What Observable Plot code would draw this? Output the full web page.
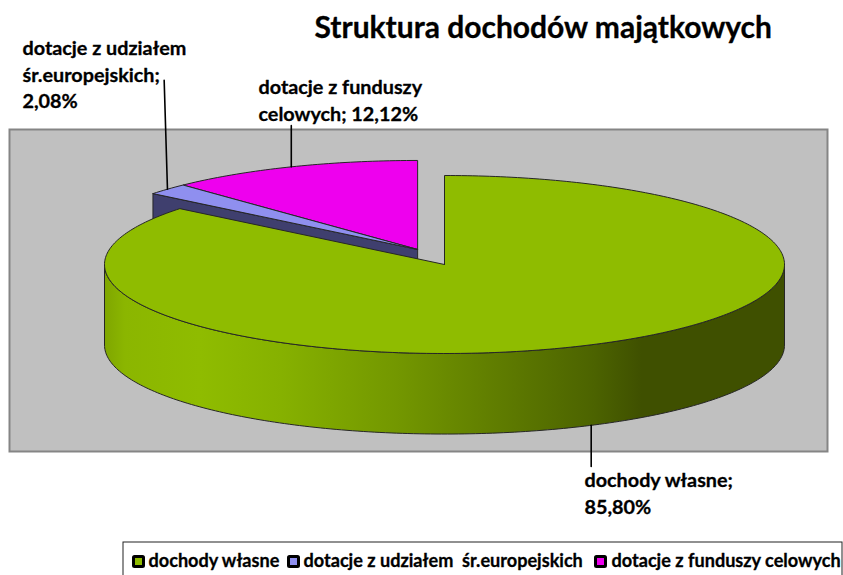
<!DOCTYPE html>
<html>
<head>
<meta charset="utf-8">
<script src="https://cdn.jsdelivr.net/npm/d3@7"></script>
<script src="https://cdn.jsdelivr.net/npm/@observablehq/plot@0.6"></script>
<style>
html,body{margin:0;padding:0;background:#fff}
svg{display:block}
</style>
</head>
<body>
<div id="chart"></div>
<script>
const categories = ["dochody własne", "dotacje z udziałem  śr.europejskich", "dotacje z funduszy celowych"];
const shares = [85.80, 2.08, 12.12];
const shareLabels = ["85,80%", "2,08%", "12,12%"];
const topColors = ["#8fbc00", "#8f8fef", "#ee00ee"];
const sideColors = ["#3f5200", "#3f3f6e", "#6e006e"];
const titleText = "Struktura dochodów majątkowych";

// Pie geometry, in units where the top face radius is 1 on both axes
const depth = 0.905;
const shifted = [0, -0.079, -0.079];   // slices pulled out to the left
const lifted = [0, 0.169, 0.169];      // ... and up
const font = "Lato, sans-serif";

const total = d3.sum(shares);
let running = 0;
const slices = shares.map((s, i) => {
  const start = running / total * 2 * Math.PI;
  running += s;
  return {i, start, end: running / total * 2 * Math.PI, cx: shifted[i], cy: lifted[i]};
});
const arcPts = (s, a0, a1, dy = 0) => {
  const n = Math.max(2, Math.ceil(Math.abs(a1 - a0) * 60));
  return d3.range(n + 1).map(k => {
    const a = a0 + (a1 - a0) * k / n;
    return {x: s.cx + Math.sin(a), y: s.cy + Math.cos(a) - dy};
  });
};
const topFace = s => [{x: s.cx, y: s.cy}, ...arcPts(s, s.start, s.end), {x: s.cx, y: s.cy}];
const rimSide = s => {
  const lo = Math.PI / 2, hi = 3 * Math.PI / 2;
  return [...arcPts(s, lo, hi), ...arcPts(s, hi, lo, depth), {x: s.cx + 1, y: s.cy}];
};
const cutSide = s => {
  const p = {x: s.cx + Math.sin(s.start), y: s.cy + Math.cos(s.start)};
  return [p, {x: s.cx, y: s.cy}, {x: s.cx, y: s.cy - depth}, {x: p.x, y: p.y - depth}, p];
};
const poly = (pts, fill, strokeWidth = 1, stroke = "#262626") =>
  Plot.line(pts, {x: "x", y: "y", fill, stroke, strokeWidth, strokeLinejoin: "round", curve: "linear"});

// Leader lines start at the middle of each slice's rim
const leader = (i, yEnd, drop = 0, lean = 0) => {
  const s = slices[i], a = (s.start + s.end) / 2;
  const x = s.cx + Math.sin(a);
  return Plot.line([{x, y: s.cy + Math.cos(a) - drop}, {x: x + lean, y: yEnd}],
    {x: "x", y: "y", stroke: "#000", strokeWidth: 1.6});
};

const gradientDefs = () => {
  const defs = d3.create("svg:defs");
  const g = defs.append("linearGradient").attr("id", "rim").attr("x1", 0).attr("x2", 1).attr("y1", 0).attr("y2", 0);
  [[0, "#7fa600"], [0.03, "#8bb600"], [0.14, "#8fbc00"], [0.26, "#86b100"], [0.43, "#739700"], [0.58, "#5f7c00"], [0.72, "#4c6300"], [0.79, "#3f5000"], [1, "#3f5000"]]
    .forEach(([o, c]) => g.append("stop").attr("offset", o).attr("stop-color", c));
  return defs.node();
};

const labels = [
  {t: titleText, x: 314, y: 28, size: 30},
  {t: "dotacje z udziałem", x: 22, y: 48, size: 19.8},
  {t: "śr.europejskich;", x: 22, y: 75, size: 19.8},
  {t: shareLabels[1], x: 22, y: 101, size: 19.8},
  {t: "dotacje z funduszy", x: 258, y: 87, size: 19.8},
  {t: "celowych; " + shareLabels[2], x: 258, y: 114, size: 19.8},
  {t: categories[0] + ";", x: 584, y: 480, size: 19.8},
  {t: shareLabels[0], x: 584, y: 507, size: 19.8}
];
const legendX = [148, 303, 611];
const legendText = categories.map((c, i) => ({t: c, x: legendX[i], y: 561, size: 18.1}));

const M = {left: 9, top: 129, right: 16, bottom: 124};
const textAt = rows => rows.map(r => Plot.text([r], {
  frameAnchor: "top-left",
  dx: r.x - M.left, dy: r.y - M.top,
  text: "t", textAnchor: "start", lineAnchor: "middle",
  fontFamily: font, fontWeight: 700, fontSize: r.size, fill: "#000",
  stroke: "#000", strokeWidth: 0.3
}));

const plot = Plot.plot({
  width: 843, height: 575,
  marginLeft: M.left, marginTop: M.top, marginRight: M.right, marginBottom: M.bottom,
  style: {background: "#fff", overflow: "visible"},
  x: {domain: [(9 - 444) / 340, (827 - 444) / 340], axis: null},
  y: {domain: [(264 - 451) / 89, (264 - 129) / 89], axis: null},
  marks: [
    gradientDefs,
    Plot.frame({fill: "#c0c0c0", stroke: "#858585", strokeWidth: 2}),
    poly(cutSide(slices[1]), sideColors[1]),
    poly(topFace(slices[2]), topColors[2]),
    poly(topFace(slices[1]), topColors[1]),
    poly(rimSide(slices[0]), "url(#rim)"),
    poly(topFace(slices[0]), topColors[0]),
    leader(0, -2.27, depth),
    leader(1, 2.07, 0, -0.0097),
    leader(2, 1.56),
    ...textAt(labels),
    ...textAt(legendText)
  ]
});
document.getElementById("chart").append(plot);

// Legend box and swatches
const svg = d3.select(plot);
svg.append("rect").attr("x", 123).attr("y", 542).attr("width", 719).attr("height", 34)
  .attr("fill", "none").attr("stroke", "#222").attr("stroke-width", 1);
const swatchX = [133.5, 288.5, 595.5];
topColors.forEach((c, i) => svg.append("rect").attr("x", swatchX[i]).attr("y", 556.5).attr("width", 10).attr("height", 10)
  .attr("rx", 1).attr("fill", c).attr("stroke", "#000").attr("stroke-width", 3));
</script>
</body>
</html>
